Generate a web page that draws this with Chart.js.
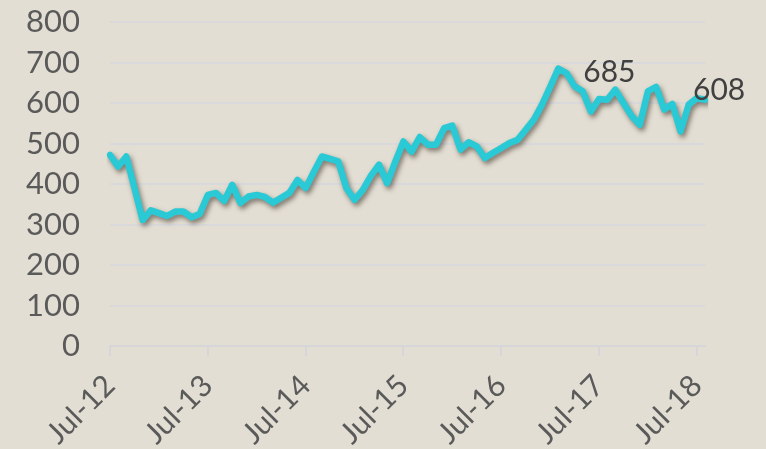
<!DOCTYPE html>
<html>
<head>
<meta charset="utf-8">
<script src="https://cdn.jsdelivr.net/npm/chart.js@4"></script>
<style>
  html, body { margin: 0; padding: 0; background: #e3ded3; }
  #wrap { width: 766px; height: 449px; }
</style>
</head>
<body>
<div id="wrap"><canvas id="myChart" width="766" height="449"></canvas></div>
<script>
// monthly categories, Jul-12 .. Aug-18
let months = [
  'Jul-12','Aug-12','Sep-12','Oct-12','Nov-12','Dec-12','Jan-13','Feb-13','Mar-13','Apr-13','May-13','Jun-13',
  'Jul-13','Aug-13','Sep-13','Oct-13','Nov-13','Dec-13','Jan-14','Feb-14','Mar-14','Apr-14','May-14','Jun-14',
  'Jul-14','Aug-14','Sep-14','Oct-14','Nov-14','Dec-14','Jan-15','Feb-15','Mar-15','Apr-15','May-15','Jun-15',
  'Jul-15','Aug-15','Sep-15','Oct-15','Nov-15','Dec-15','Jan-16','Feb-16','Mar-16','Apr-16','May-16','Jun-16',
  'Jul-16','Aug-16','Sep-16','Oct-16','Nov-16','Dec-16','Jan-17','Feb-17','Mar-17','Apr-17','May-17','Jun-17',
  'Jul-17','Aug-17','Sep-17','Oct-17','Nov-17','Dec-17','Jan-18','Feb-18','Mar-18','Apr-18','May-18','Jun-18',
  'Jul-18','Aug-18'
];

let values = [
  472, 443, 468, 390, 311, 335, 328, 321, 332, 332, 318, 326,
  373, 378, 358, 398, 353, 369, 373, 368, 354, 366, 378, 410,
  390, 430, 468, 462, 456, 390, 361, 385, 420, 448, 402, 455,
  505, 480, 516, 497, 497, 538, 544, 485, 503, 493, 464, 477,
  489, 501, 509, 534, 559, 596, 640, 685, 674, 641, 629, 579,
  610, 608, 633, 600, 568, 546, 629, 640, 584, 598, 530, 596,
  612, 608
];

let yearTicks = ['Jul-12','Jul-13','Jul-14','Jul-15','Jul-16','Jul-17','Jul-18'];

// labelled points: index into values, text offset from the point
let callouts = [
  { index: 55, dx: 25, dy: 13 },
  { index: 73, dx: -12, dy: 0 }
];

let fontName = 'Lato, "Open Sans", sans-serif';

let lineShadow = {
  id: 'lineShadow',
  beforeDatasetDraw(chart) {
    let ctx = chart.ctx;
    ctx.save();
    ctx.shadowColor = 'rgba(60, 50, 40, 0.6)';
    ctx.shadowBlur = 5;
    ctx.shadowOffsetX = 2;
    ctx.shadowOffsetY = 3;
  },
  afterDatasetDraw(chart) {
    chart.ctx.restore();
  }
};

let calloutLabels = {
  id: 'calloutLabels',
  afterDraw(chart) {
    let ctx = chart.ctx;
    let meta = chart.getDatasetMeta(0);
    ctx.save();
    ctx.font = '30px ' + fontName;
    ctx.fillStyle = '#404040';
    ctx.textAlign = 'left';
    ctx.textBaseline = 'alphabetic';
    callouts.forEach(c => {
      let p = meta.data[c.index];
      ctx.fillText(String(values[c.index]), p.x + c.dx, p.y + c.dy);
    });
    ctx.restore();
  }
};

let ctx = document.getElementById('myChart').getContext('2d');

let chart = new Chart(ctx, {
  type: 'line',
  data: {
    labels: months,
    datasets: [{
      data: values,
      borderColor: '#29cad5',
      borderWidth: 6.5,
      borderJoinStyle: 'round',
      borderCapStyle: 'round',
      pointRadius: 0,
      tension: 0,
      fill: false
    }]
  },
  options: {
    responsive: false,
    animation: false,
    layout: { padding: { top: 22, right: 61, left: 0, bottom: 0 } },
    plugins: {
      legend: { display: false },
      tooltip: { enabled: false }
    },
    scales: {
      x: {
        offset: false,
        afterFit: (s) => {
          s.height = 103;
          s.paddingLeft = 0;
          s.paddingRight = 0;
        },
        border: { display: true, color: '#d6d6d8', width: 2 },
        grid: {
          drawOnChartArea: false,
          drawTicks: true,
          tickLength: 10,
          color: '#d6d6d8',
          lineWidth: 2
        },
        ticks: {
          autoSkip: false,
          minRotation: 45,
          maxRotation: 45,
          padding: 12,
          color: '#5a5a5a',
          font: { family: fontName, size: 30 },
          callback: function(value, index) {
            let lab = this.getLabelForValue(value);
            return yearTicks.includes(lab) ? lab : null;
          }
        }
      },
      y: {
        min: 0,
        max: 800,
        afterFit: (s) => {
          s.width = 110;
          s.paddingTop = 0;
          s.paddingBottom = 0;
        },
        border: { display: false },
        grid: {
          color: '#d9d9dc',
          lineWidth: 2,
          drawTicks: false
        },
        ticks: {
          stepSize: 100,
          autoSkip: false,
          padding: 30,
          color: '#5a5a5a',
          font: { family: fontName, size: 31 }
        }
      }
    }
  },
  plugins: [lineShadow, calloutLabels]
});
</script>
</body>
</html>
